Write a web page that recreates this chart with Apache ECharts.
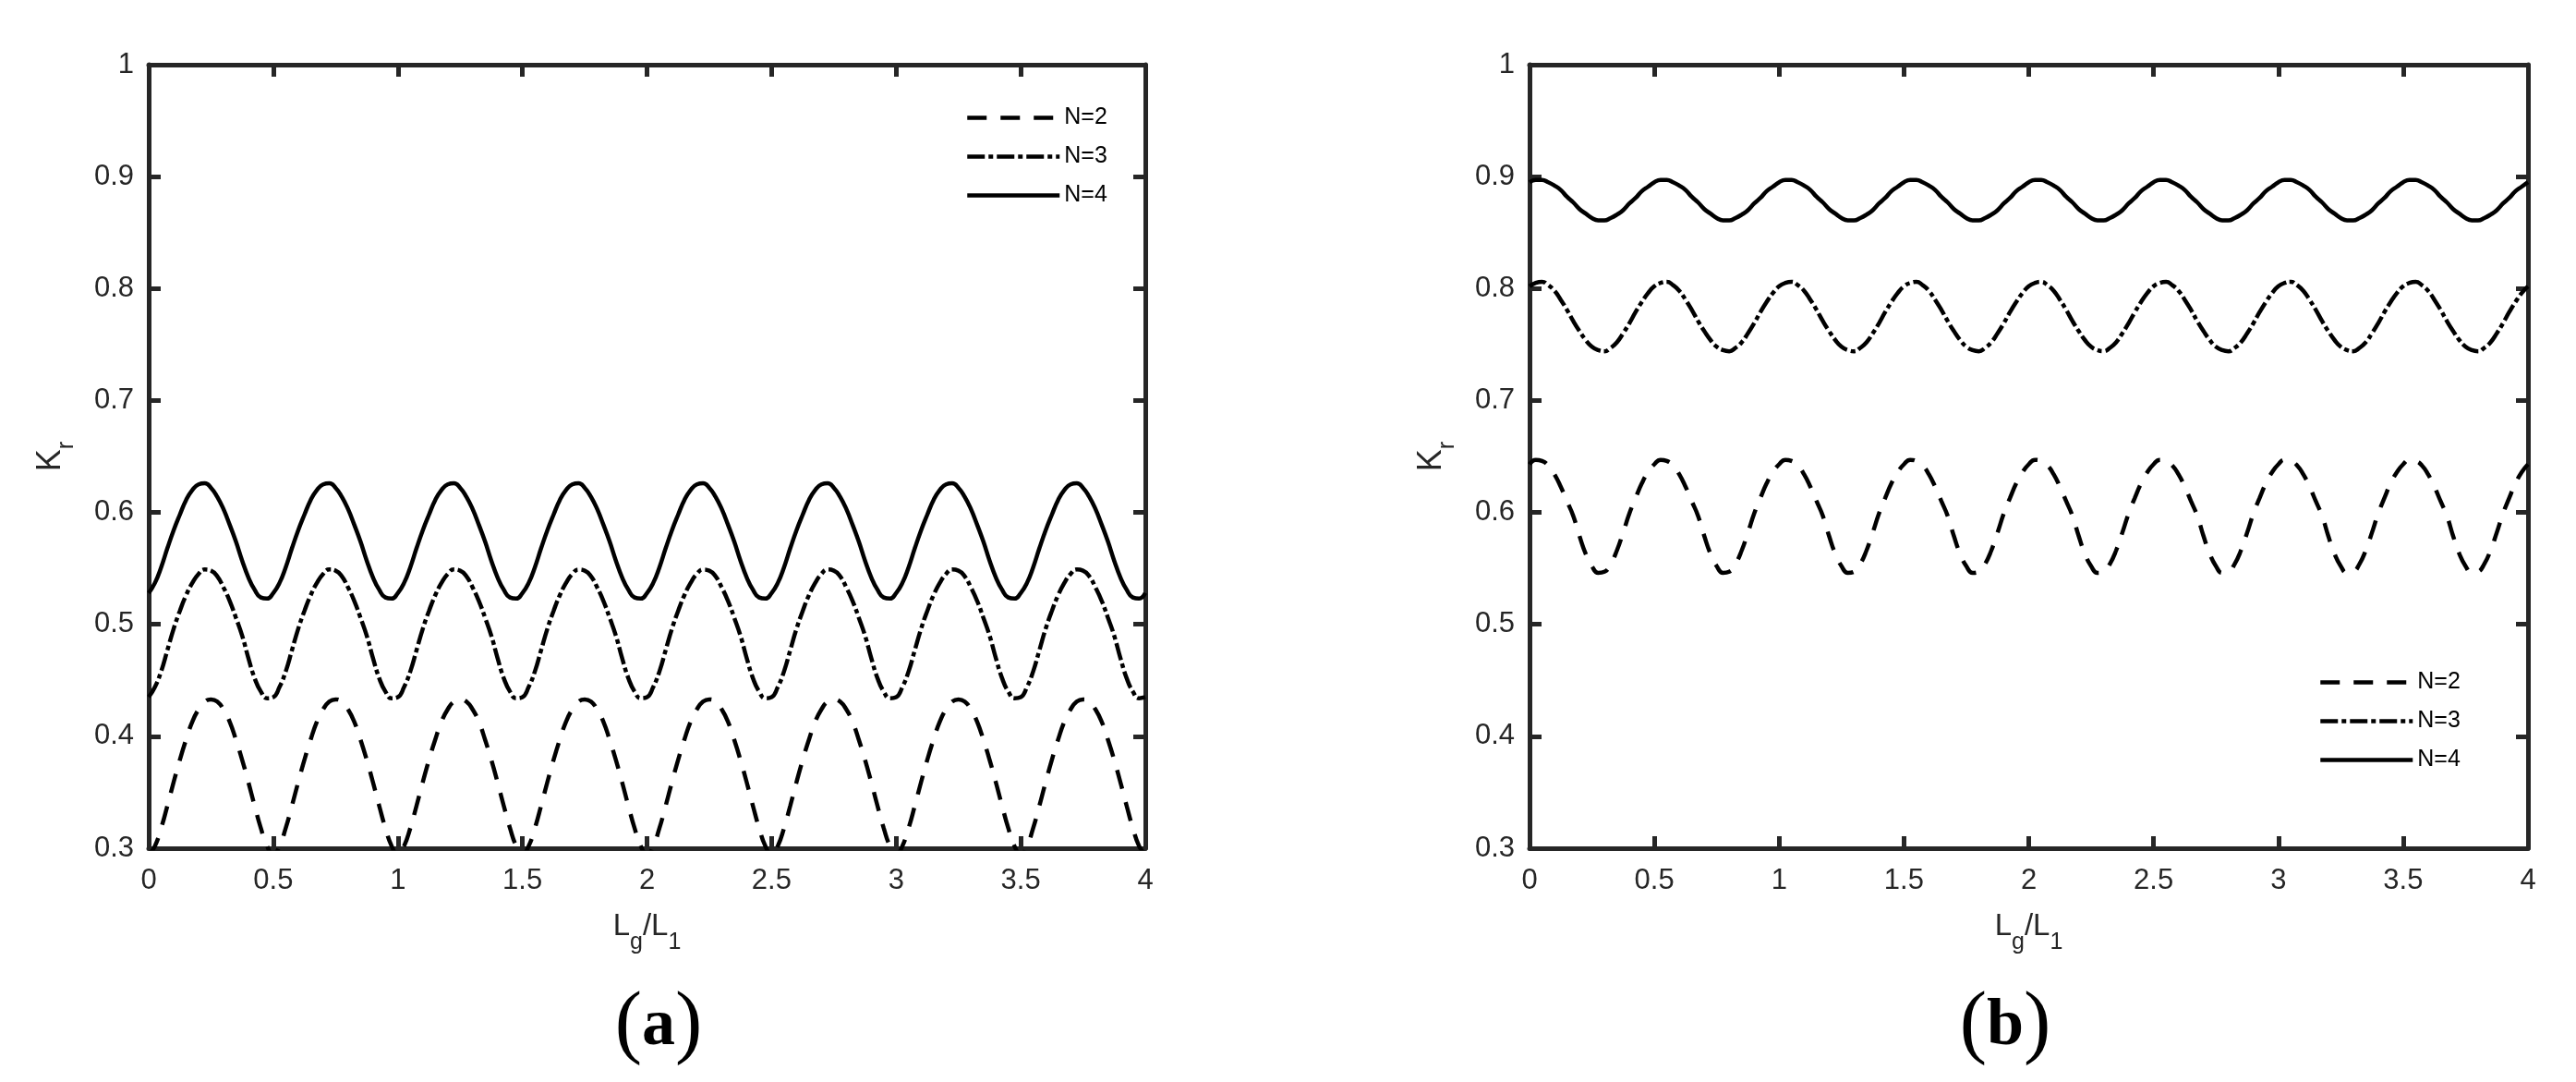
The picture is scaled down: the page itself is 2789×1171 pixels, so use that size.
<!DOCTYPE html>
<html>
<head>
<meta charset="utf-8">
<script src="https://cdn.jsdelivr.net/npm/echarts@6/dist/echarts.min.js"></script>
<style>
	html, body { margin: 0; padding: 0; background: #fff; }
	#kr { width: 2789px; height: 1171px; }
</style>
</head>
<body>
<div id="kr"></div>
<script>
// Lg/L1 samples shared by every curve
var lg = [
	0, 0.025, 0.05, 0.075, 0.1, 0.125, 0.15, 0.175, 0.2, 0.225, 0.25, 0.275, 0.3, 0.325, 0.35, 0.375, 0.4, 0.425, 0.45, 0.475,
	0.5, 0.525, 0.55, 0.575, 0.6, 0.625, 0.65, 0.675, 0.7, 0.725, 0.75, 0.775, 0.8, 0.825, 0.85, 0.875, 0.9, 0.925, 0.95, 0.975,
	1, 1.025, 1.05, 1.075, 1.1, 1.125, 1.15, 1.175, 1.2, 1.225, 1.25, 1.275, 1.3, 1.325, 1.35, 1.375, 1.4, 1.425, 1.45, 1.475,
	1.5, 1.525, 1.55, 1.575, 1.6, 1.625, 1.65, 1.675, 1.7, 1.725, 1.75, 1.775, 1.8, 1.825, 1.85, 1.875, 1.9, 1.925, 1.95, 1.975,
	2, 2.025, 2.05, 2.075, 2.1, 2.125, 2.15, 2.175, 2.2, 2.225, 2.25, 2.275, 2.3, 2.325, 2.35, 2.375, 2.4, 2.425, 2.45, 2.475,
	2.5, 2.525, 2.55, 2.575, 2.6, 2.625, 2.65, 2.675, 2.7, 2.725, 2.75, 2.775, 2.8, 2.825, 2.85, 2.875, 2.9, 2.925, 2.95, 2.975,
	3, 3.025, 3.05, 3.075, 3.1, 3.125, 3.15, 3.175, 3.2, 3.225, 3.25, 3.275, 3.3, 3.325, 3.35, 3.375, 3.4, 3.425, 3.45, 3.475,
	3.5, 3.525, 3.55, 3.575, 3.6, 3.625, 3.65, 3.675, 3.7, 3.725, 3.75, 3.775, 3.8, 3.825, 3.85, 3.875, 3.9, 3.925, 3.95, 3.975,
	4
];

// panel (a)
var krA2 = [
	0.294, 0.302, 0.318, 0.338, 0.359, 0.379, 0.397, 0.413, 0.424, 0.431, 0.433, 0.431, 0.424, 0.413, 0.397, 0.379, 0.359, 0.338, 0.318, 0.302,
	0.294, 0.302, 0.318, 0.338, 0.359, 0.379, 0.397, 0.413, 0.424, 0.431, 0.433, 0.431, 0.424, 0.413, 0.397, 0.379, 0.359, 0.338, 0.318, 0.302,
	0.294, 0.302, 0.318, 0.338, 0.359, 0.379, 0.397, 0.413, 0.424, 0.431, 0.433, 0.431, 0.424, 0.413, 0.397, 0.379, 0.359, 0.338, 0.318, 0.302,
	0.294, 0.302, 0.318, 0.338, 0.359, 0.379, 0.397, 0.413, 0.424, 0.431, 0.433, 0.431, 0.424, 0.413, 0.397, 0.379, 0.359, 0.338, 0.318, 0.302,
	0.294, 0.302, 0.318, 0.338, 0.359, 0.379, 0.397, 0.413, 0.424, 0.431, 0.433, 0.431, 0.424, 0.413, 0.397, 0.379, 0.359, 0.338, 0.318, 0.302,
	0.294, 0.302, 0.318, 0.338, 0.359, 0.379, 0.397, 0.413, 0.424, 0.431, 0.433, 0.431, 0.424, 0.413, 0.397, 0.379, 0.359, 0.338, 0.318, 0.302,
	0.294, 0.302, 0.318, 0.338, 0.359, 0.379, 0.397, 0.413, 0.424, 0.431, 0.433, 0.431, 0.424, 0.413, 0.397, 0.379, 0.359, 0.338, 0.318, 0.302,
	0.294, 0.302, 0.318, 0.338, 0.359, 0.379, 0.397, 0.413, 0.424, 0.431, 0.433, 0.431, 0.424, 0.413, 0.397, 0.379, 0.359, 0.338, 0.318, 0.302,
	0.294
];
var krA3 = [
	0.435, 0.444, 0.458, 0.477, 0.496, 0.512, 0.526, 0.537, 0.545, 0.549, 0.548, 0.543, 0.533, 0.521, 0.506, 0.490, 0.470, 0.452, 0.440, 0.434,
	0.435, 0.444, 0.458, 0.477, 0.496, 0.512, 0.526, 0.537, 0.545, 0.549, 0.548, 0.543, 0.533, 0.521, 0.506, 0.490, 0.470, 0.452, 0.440, 0.434,
	0.435, 0.444, 0.458, 0.477, 0.496, 0.512, 0.526, 0.537, 0.545, 0.549, 0.548, 0.543, 0.533, 0.521, 0.506, 0.490, 0.470, 0.452, 0.440, 0.434,
	0.435, 0.444, 0.458, 0.477, 0.496, 0.512, 0.526, 0.537, 0.545, 0.549, 0.548, 0.543, 0.533, 0.521, 0.506, 0.490, 0.470, 0.452, 0.440, 0.434,
	0.435, 0.444, 0.458, 0.477, 0.496, 0.512, 0.526, 0.537, 0.545, 0.549, 0.548, 0.543, 0.533, 0.521, 0.506, 0.490, 0.470, 0.452, 0.440, 0.434,
	0.435, 0.444, 0.458, 0.477, 0.496, 0.512, 0.526, 0.537, 0.545, 0.549, 0.548, 0.543, 0.533, 0.521, 0.506, 0.490, 0.470, 0.452, 0.440, 0.434,
	0.435, 0.444, 0.458, 0.477, 0.496, 0.512, 0.526, 0.537, 0.545, 0.549, 0.548, 0.543, 0.533, 0.521, 0.506, 0.490, 0.470, 0.452, 0.440, 0.434,
	0.435, 0.444, 0.458, 0.477, 0.496, 0.512, 0.526, 0.537, 0.545, 0.549, 0.548, 0.543, 0.533, 0.521, 0.506, 0.490, 0.470, 0.452, 0.440, 0.434,
	0.435
];
var krA4 = [
	0.528, 0.537, 0.551, 0.568, 0.584, 0.598, 0.611, 0.620, 0.625, 0.626, 0.622, 0.614, 0.603, 0.589, 0.574, 0.557, 0.542, 0.531, 0.524, 0.523,
	0.528, 0.537, 0.551, 0.568, 0.584, 0.598, 0.611, 0.620, 0.625, 0.626, 0.622, 0.614, 0.603, 0.589, 0.574, 0.557, 0.542, 0.531, 0.524, 0.523,
	0.528, 0.537, 0.551, 0.568, 0.584, 0.598, 0.611, 0.620, 0.625, 0.626, 0.622, 0.614, 0.603, 0.589, 0.574, 0.557, 0.542, 0.531, 0.524, 0.523,
	0.528, 0.537, 0.551, 0.568, 0.584, 0.598, 0.611, 0.620, 0.625, 0.626, 0.622, 0.614, 0.603, 0.589, 0.574, 0.557, 0.542, 0.531, 0.524, 0.523,
	0.528, 0.537, 0.551, 0.568, 0.584, 0.598, 0.611, 0.620, 0.625, 0.626, 0.622, 0.614, 0.603, 0.589, 0.574, 0.557, 0.542, 0.531, 0.524, 0.523,
	0.528, 0.537, 0.551, 0.568, 0.584, 0.598, 0.611, 0.620, 0.625, 0.626, 0.622, 0.614, 0.603, 0.589, 0.574, 0.557, 0.542, 0.531, 0.524, 0.523,
	0.528, 0.537, 0.551, 0.568, 0.584, 0.598, 0.611, 0.620, 0.625, 0.626, 0.622, 0.614, 0.603, 0.589, 0.574, 0.557, 0.542, 0.531, 0.524, 0.523,
	0.528, 0.537, 0.551, 0.568, 0.584, 0.598, 0.611, 0.620, 0.625, 0.626, 0.622, 0.614, 0.603, 0.589, 0.574, 0.557, 0.542, 0.531, 0.524, 0.523,
	0.528
];

// panel (b)
var krB2 = [
	0.643, 0.647, 0.646, 0.642, 0.634, 0.623, 0.610, 0.597, 0.579, 0.563, 0.552, 0.546, 0.547, 0.554, 0.566, 0.582, 0.599, 0.613, 0.626, 0.636,
	0.643, 0.647, 0.646, 0.642, 0.634, 0.623, 0.610, 0.597, 0.579, 0.563, 0.552, 0.546, 0.547, 0.554, 0.566, 0.582, 0.599, 0.613, 0.626, 0.636,
	0.643, 0.647, 0.646, 0.642, 0.634, 0.623, 0.610, 0.597, 0.579, 0.563, 0.552, 0.546, 0.547, 0.554, 0.566, 0.582, 0.599, 0.613, 0.626, 0.636,
	0.643, 0.647, 0.646, 0.642, 0.634, 0.623, 0.610, 0.597, 0.579, 0.563, 0.552, 0.546, 0.547, 0.554, 0.566, 0.582, 0.599, 0.613, 0.626, 0.636,
	0.643, 0.647, 0.646, 0.642, 0.634, 0.623, 0.610, 0.597, 0.579, 0.563, 0.552, 0.546, 0.547, 0.554, 0.566, 0.582, 0.599, 0.613, 0.626, 0.636,
	0.643, 0.647, 0.646, 0.642, 0.634, 0.623, 0.610, 0.597, 0.579, 0.563, 0.552, 0.546, 0.547, 0.554, 0.566, 0.582, 0.599, 0.613, 0.626, 0.636,
	0.643, 0.647, 0.646, 0.642, 0.634, 0.623, 0.610, 0.597, 0.579, 0.563, 0.552, 0.546, 0.547, 0.554, 0.566, 0.582, 0.599, 0.613, 0.626, 0.636,
	0.643, 0.647, 0.646, 0.642, 0.634, 0.623, 0.610, 0.597, 0.579, 0.563, 0.552, 0.546, 0.547, 0.554, 0.566, 0.582, 0.599, 0.613, 0.626, 0.636,
	0.643
];
var krB3 = [
	0.802, 0.805, 0.806, 0.803, 0.798, 0.790, 0.781, 0.771, 0.762, 0.754, 0.748, 0.745, 0.744, 0.747, 0.752, 0.760, 0.769, 0.779, 0.788, 0.796,
	0.802, 0.805, 0.806, 0.803, 0.798, 0.790, 0.781, 0.771, 0.762, 0.754, 0.748, 0.745, 0.744, 0.747, 0.752, 0.760, 0.769, 0.779, 0.788, 0.796,
	0.802, 0.805, 0.806, 0.803, 0.798, 0.790, 0.781, 0.771, 0.762, 0.754, 0.748, 0.745, 0.744, 0.747, 0.752, 0.760, 0.769, 0.779, 0.788, 0.796,
	0.802, 0.805, 0.806, 0.803, 0.798, 0.790, 0.781, 0.771, 0.762, 0.754, 0.748, 0.745, 0.744, 0.747, 0.752, 0.760, 0.769, 0.779, 0.788, 0.796,
	0.802, 0.805, 0.806, 0.803, 0.798, 0.790, 0.781, 0.771, 0.762, 0.754, 0.748, 0.745, 0.744, 0.747, 0.752, 0.760, 0.769, 0.779, 0.788, 0.796,
	0.802, 0.805, 0.806, 0.803, 0.798, 0.790, 0.781, 0.771, 0.762, 0.754, 0.748, 0.745, 0.744, 0.747, 0.752, 0.760, 0.769, 0.779, 0.788, 0.796,
	0.802, 0.805, 0.806, 0.803, 0.798, 0.790, 0.781, 0.771, 0.762, 0.754, 0.748, 0.745, 0.744, 0.747, 0.752, 0.760, 0.769, 0.779, 0.788, 0.796,
	0.802, 0.805, 0.806, 0.803, 0.798, 0.790, 0.781, 0.771, 0.762, 0.754, 0.748, 0.745, 0.744, 0.747, 0.752, 0.760, 0.769, 0.779, 0.788, 0.796,
	0.802
];
var krB4 = [
	0.895, 0.897, 0.897, 0.895, 0.892, 0.888, 0.882, 0.877, 0.871, 0.867, 0.863, 0.861, 0.861, 0.863, 0.866, 0.870, 0.876, 0.881, 0.887, 0.891,
	0.895, 0.897, 0.897, 0.895, 0.892, 0.888, 0.882, 0.877, 0.871, 0.867, 0.863, 0.861, 0.861, 0.863, 0.866, 0.870, 0.876, 0.881, 0.887, 0.891,
	0.895, 0.897, 0.897, 0.895, 0.892, 0.888, 0.882, 0.877, 0.871, 0.867, 0.863, 0.861, 0.861, 0.863, 0.866, 0.870, 0.876, 0.881, 0.887, 0.891,
	0.895, 0.897, 0.897, 0.895, 0.892, 0.888, 0.882, 0.877, 0.871, 0.867, 0.863, 0.861, 0.861, 0.863, 0.866, 0.870, 0.876, 0.881, 0.887, 0.891,
	0.895, 0.897, 0.897, 0.895, 0.892, 0.888, 0.882, 0.877, 0.871, 0.867, 0.863, 0.861, 0.861, 0.863, 0.866, 0.870, 0.876, 0.881, 0.887, 0.891,
	0.895, 0.897, 0.897, 0.895, 0.892, 0.888, 0.882, 0.877, 0.871, 0.867, 0.863, 0.861, 0.861, 0.863, 0.866, 0.870, 0.876, 0.881, 0.887, 0.891,
	0.895, 0.897, 0.897, 0.895, 0.892, 0.888, 0.882, 0.877, 0.871, 0.867, 0.863, 0.861, 0.861, 0.863, 0.866, 0.870, 0.876, 0.881, 0.887, 0.891,
	0.895, 0.897, 0.897, 0.895, 0.892, 0.888, 0.882, 0.877, 0.871, 0.867, 0.863, 0.861, 0.861, 0.863, 0.866, 0.870, 0.876, 0.881, 0.887, 0.891,
	0.895
];

var names = ['N=2', 'N=3', 'N=4'];
var dashes = [[21, 15], [19, 4, 5, 4], 'solid'];
var panelLabels = ['a', 'b'];

var axisColor = '#262626';
var sans = 'Liberation Sans';

var chart = echarts.init(document.getElementById('kr'));

function tickAxis(extra) {
	var ax = {
		type: 'value',
		axisLine: { onZero: false, lineStyle: { color: axisColor, width: 5 } },
		axisTick: { inside: true, length: 13, lineStyle: { color: axisColor, width: 5 } },
		axisLabel: { show: false },
		splitLine: { show: false },
		nameMoveOverlap: false
	};
	for (var k in extra) ax[k] = extra[k];
	return ax;
}

var labelStyle = { show: true, fontSize: 31, color: axisColor, fontFamily: sans };

var xAxes = [], yAxes = [];
[0, 1].forEach(function(gi) {
	xAxes.push(tickAxis({
		gridIndex: gi, position: 'bottom', min: 0, max: 4, interval: 0.5,
		axisLabel: Object.assign({ margin: 20 }, labelStyle),
		name: '{m|L}{s|g}{m|/L}{s|1}',
		nameLocation: 'middle',
		nameGap: 55,
		nameTextStyle: {
			color: axisColor,
			rich: {
				m: { fontSize: 33, lineHeight: 60, fontFamily: sans, color: axisColor },
				s: { fontSize: 25, lineHeight: 18, verticalAlign: 'bottom', fontFamily: sans, color: axisColor }
			}
		}
	}));
	xAxes.push(tickAxis({ gridIndex: gi, position: 'top', min: 0, max: 4, interval: 0.5 }));
	yAxes.push(tickAxis({
		gridIndex: gi, position: 'left', min: 0.3, max: 1, interval: 0.1,
		axisLabel: Object.assign({ margin: 16 }, labelStyle),
		name: '{m|K}{s|r}',
		nameLocation: 'middle',
		nameGap: 76,
		nameTextStyle: {
			color: axisColor,
			rich: {
				m: { fontSize: 36, lineHeight: 60, fontFamily: sans, color: axisColor },
				s: { fontSize: 25, lineHeight: 20, verticalAlign: 'bottom', fontFamily: sans, color: axisColor }
			}
		}
	}));
	yAxes.push(tickAxis({ gridIndex: gi, position: 'right', min: 0.3, max: 1, interval: 0.1 }));
});

function curve(i, values, gi) {
	return {
		name: names[i],
		type: 'line',
		xAxisIndex: gi * 2,
		yAxisIndex: gi * 2,
		showSymbol: false,
		symbol: 'none',
		smooth: true,
		clip: true,
		lineStyle: { color: '#000', width: 4.5, type: dashes[i] },
		data: lg.map(function(x, j) { return [x, values[j]]; })
	};
}

function legendAt(left, top) {
	return {
		orient: 'vertical',
		left: left,
		top: top,
		itemWidth: 100,
		itemHeight: 24,
		itemGap: 17,
		selectedMode: false,
		itemStyle: { opacity: 0 },
		textStyle: { fontSize: 25, color: '#000', fontFamily: sans, lineHeight: 24 },
		data: names.map(function(n, i) {
			return { name: n, lineStyle: { color: '#000', width: 4.5, type: dashes[i], opacity: 1 } };
		})
	};
}

function panelTag(txt, x) {
	return {
		type: 'text',
		x: x,
		y: 1111,
		style: {
			text: '{p|(}{b|' + txt + '}{p|)}',
			align: 'center',
			verticalAlign: 'middle',
			fill: '#000',
			rich: {
				p: { fontFamily: 'Liberation Serif', fontSize: 88, fill: '#000' },
				b: { fontFamily: 'Liberation Serif', fontWeight: 'bold', fontSize: 72, fill: '#000' }
			}
		}
	};
}

var option = {
	animation: false,
	backgroundColor: '#fff',
	grid: [
		{ left: 161, top: 70, width: 1079, height: 848, outerBoundsMode: 'none', containLabel: false },
		{ left: 1656, top: 70, width: 1081, height: 848, outerBoundsMode: 'none', containLabel: false }
	],
	xAxis: xAxes,
	yAxis: yAxes,
	legend: [legendAt(1040, 110), legendAt(2505, 721)],
	graphic: [panelTag(panelLabels[0], 713), panelTag(panelLabels[1], 2171)],
	series: [
		curve(0, krA2, 0),
		curve(1, krA3, 0),
		curve(2, krA4, 0),
		curve(0, krB2, 1),
		curve(1, krB3, 1),
		curve(2, krB4, 1)
	]
};

chart.setOption(option);
</script>
</body>
</html>
